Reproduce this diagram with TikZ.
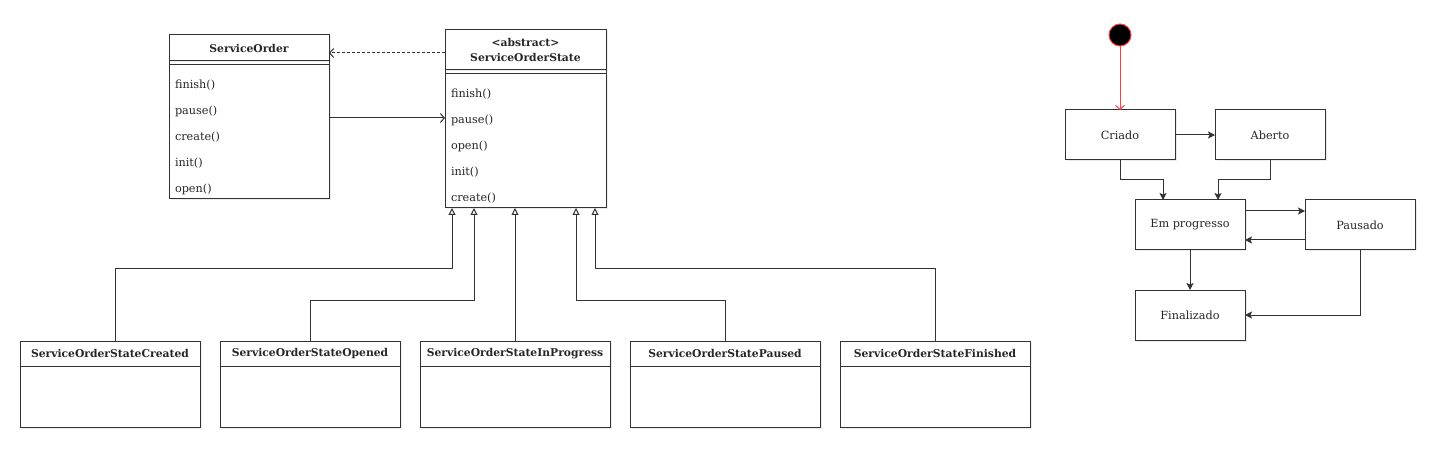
\documentclass[tikz,border=0pt]{standalone}
\usepackage{fontspec}
\setmainfont{DejaVu Serif}
\usetikzlibrary{positioning}
\usetikzlibrary{arrows.meta}
\usetikzlibrary{shadows}
\renewcommand{\arraystretch}{1.926}

\begin{document}
\begin{tikzpicture}[x=1pt, y=-1pt,
    box/.style={rectangle, draw=black!80, line width=1pt, fill=white, inner sep=0pt, outer sep=0pt, text=black!85, font=\fontsize{11.25}{13.5}\selectfont, drop shadow={shadow xshift=1.5pt, shadow yshift=-1.5pt, opacity=0.15}},
    classhead/.style={box, font=\fontsize{10.75}{12.9}\selectfont\bfseries},
    classbody/.style={box, minimum height=134pt},
    statebox/.style={box, minimum width=110pt, minimum height=50pt},
    assoc/.style={draw=black!80, line width=1pt, -{Straight Barb[length=4pt, width=9pt]}},
    inherit/.style={draw=black!80, line width=1pt, -{Triangle[open, length=7pt, width=7pt]}},
    trans/.style={draw=black!80, line width=1pt, -{Stealth[length=7pt, width=7pt, inset=1.5pt]}},
    initial/.style={draw=red!75, line width=1pt, -{Straight Barb[length=4pt, width=9pt]}}]
    \useasboundingbox (0,0) rectangle (1442,454);

    % class diagram
    \begin{scope}
    \node (so) [classhead, minimum width=160pt, minimum height=26pt] at (249,48) {ServiceOrder};
    \node (sobody) [classbody, minimum width=160pt, below=4pt of so] {
        \begin{tabular}{@{\hspace{6pt}}p{154pt}@{}}
            \raisebox{-3pt}{finish()} \\
            \raisebox{-3pt}{pause()} \\
            \raisebox{-3pt}{create()} \\
            \raisebox{-3pt}{init()} \\
            \raisebox{-3pt}{open()}
        \end{tabular}};
    \draw [draw=black!80, line width=1pt] (so.south west) -- (sobody.north west) (so.south east) -- (sobody.north east);

    \node (sos) [classhead, minimum width=161pt, minimum height=40pt, align=center, font=\fontsize{10.75}{15}\selectfont\bfseries] at (525.5,50) {<abstract>\\ServiceOrderState};
    \node (sosbody) [classbody, minimum width=161pt, below=4pt of sos] {
        \begin{tabular}{@{\hspace{6pt}}p{155pt}@{}}
            \raisebox{-3pt}{finish()} \\
            \raisebox{-3pt}{pause()} \\
            \raisebox{-3pt}{open()} \\
            \raisebox{-3pt}{init()} \\
            \raisebox{-3pt}{create()}
        \end{tabular}};
    \draw [draw=black!80, line width=1pt] (sos.south west) -- (sosbody.north west) (sos.south east) -- (sosbody.north east);

    \draw [assoc, dash pattern=on 3pt off 2pt] ([yshift=-3pt]sos.west) -- ([yshift=-3pt]sos.west -| so.east);
    \draw [assoc] ([yshift=14pt]sobody.east) -- ([yshift=14pt]sobody.east -| sosbody.west);
    \end{scope}

    \begin{scope}
    \node (created) [classhead, minimum width=180pt, minimum height=25pt] at (110,353.5) {ServiceOrderStateCreated};
    \node (createdbody) [classbody, minimum width=180pt, minimum height=61pt, below=0pt of created] {};
    \node (opened) [classhead, minimum width=180pt, minimum height=25pt, right=20pt of created] {ServiceOrderStateOpened};
    \node (openedbody) [classbody, minimum width=180pt, minimum height=61pt, below=0pt of opened] {};
    \node (inprogress) [classhead, minimum width=190pt, minimum height=25pt, right=20pt of opened] {ServiceOrderStateInProgress};
    \node (inprogressbody) [classbody, minimum width=190pt, minimum height=61pt, below=0pt of inprogress] {};
    \node (paused) [classhead, minimum width=190pt, minimum height=25pt, right=20pt of inprogress] {ServiceOrderStatePaused};
    \node (pausedbody) [classbody, minimum width=190pt, minimum height=61pt, below=0pt of paused] {};
    \node (finished) [classhead, minimum width=190pt, minimum height=25pt, right=20pt of paused] {ServiceOrderStateFinished};
    \node (finishedbody) [classbody, minimum width=190pt, minimum height=61pt, below=0pt of finished] {};

    \draw [inherit] ([xshift=5pt]created.north) -- ++(0,-72) -| ([xshift=7pt]sosbody.south west);
    \draw [inherit] (opened.north) -- ++(0,-41) -| ([xshift=29pt]sosbody.south west);
    \draw [inherit] (inprogress.north) -- (inprogress.north |- sosbody.south);
    \draw [inherit] (paused.north) -- ++(0,-41) -| ([xshift=-30pt]sosbody.south east);
    \draw [inherit] (finished.north) -- ++(0,-72) -| ([xshift=-11pt]sosbody.south east);
    \end{scope}

    % state diagram
    \begin{scope}
    \node (init) [circle, minimum size=22pt, inner sep=0pt, fill=black, draw=red!75, line width=1pt] at (1120,35) {};
    \node (criado) [statebox] at (1120,135) {Criado};
    \node (aberto) [statebox, right=40pt of criado] {Aberto};
    \node (emprogresso) [statebox] at (1190,225) {Em progresso};
    \node (pausado) [statebox, right=60pt of emprogresso] {Pausado};
    \node (finalizado) [statebox, below=40pt of emprogresso] {Finalizado};

    \draw [initial] (init) -- (criado);
    \draw [trans] (criado) -- (aberto);
    \draw [trans] (criado.south) -- ++(0,20) -| ([xshift=-27pt]emprogresso.north);
    \draw [trans] (aberto.south) -- ++(0,20) -| ([xshift=28pt]emprogresso.north);
    \draw [trans] ([yshift=14pt]emprogresso.east) -- ([yshift=14pt]pausado.west);
    \draw [trans] ([yshift=-15pt]pausado.west) -- ([yshift=-15pt]emprogresso.east);
    \draw [trans] (emprogresso) -- (finalizado);
    \draw [trans] (pausado.south) |- (finalizado.east);
    \end{scope}
\end{tikzpicture}
\end{document}
